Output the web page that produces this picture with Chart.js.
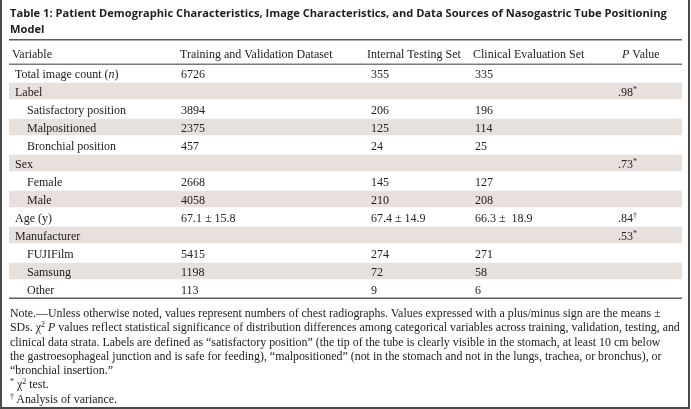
<!DOCTYPE html>
<html><head><meta charset="utf-8">
<script src="https://cdn.jsdelivr.net/npm/chart.js@4/dist/chart.umd.min.js"></script>
<style>
html,body{margin:0;padding:0;background:#fff;}
#wrap{position:relative;width:691px;height:409px;overflow:hidden;background:#fff;}
#frame{position:absolute;left:0;top:-2px;width:686px;height:407px;border:2px solid #4a4a4a;pointer-events:none;}
#title{position:absolute;left:10px;top:5px;font-family:"Open Sans";font-weight:700;font-size:12px;color:#1e1e1e;line-height:16px;white-space:nowrap;}
#note{position:absolute;left:10px;top:306px;font-family:"Liberation Serif";font-size:11.9px;color:#222;line-height:14.3px;white-space:nowrap;}
#note sup{font-size:8px;line-height:0;vertical-align:4px;}
canvas{position:absolute;left:0;top:0;}
</style></head>
<body><div id="wrap">
<canvas id="c" width="691" height="409"></canvas>
<div id="title"><span id="t1">Table 1: Patient Demographic Characteristics, Image Characteristics, and Data Sources of Nasogastric Tube Positioning</span><br>Model</div>
<div id="note">Note.—Unless otherwise noted, values represent numbers of chest radiographs. Values expressed with a plus/minus sign are the means ±<br>SDs. χ<sup>2</sup> <i>P</i> values reflect statistical significance of distribution differences among categorical variables across training, validation, testing, and<br>clinical data strata. Labels are defined as “satisfactory position” (the tip of the tube is clearly visible in the stomach, at least 10 cm below<br>the gastroesophageal junction and is safe for feeding), “malpositioned” (not in the stomach and not in the lungs, trachea, or bronchus), or<br>“bronchial insertion.”<br><sup>*</sup> χ<sup>2</sup> test.<br><sup>†</sup> Analysis of variance.</div>
<div id="frame"></div>
</div>
<script>
const columnHeaders = ["Variable", "Training and Validation Dataset", "Internal Testing Set", "Clinical Evaluation Set", "P Value"];
const rowLabels = ["Total image count (n)", "Label", "Satisfactory position", "Malpositioned", "Bronchial position", "Sex", "Female", "Male", "Age (y)", "Manufacturer", "FUJIFilm", "Samsung", "Other"];
const rowLevel = [0, 0, 1, 1, 1, 0, 1, 1, 0, 0, 1, 1, 1];
const trainingValues = ["6726", "", "3894", "2375", "457", "", "2668", "4058", "67.1 ± 15.8", "", "5415", "1198", "113"];
const internalValues = ["355", "", "206", "125", "24", "", "145", "210", "67.4 ± 14.9", "", "274", "72", "9"];
const clinicalValues = ["335", "", "196", "114", "25", "", "127", "208", "66.3 ±  18.9", "", "271", "58", "6"];
const pValues = ["", ".98", "", "", "", ".73", "", "", ".84", ".53", "", "", ""];
const pMarks = ["", "*", "", "", "", "*", "", "", "†", "*", "", "", ""];

const FONT = '"Liberation Serif"';
const FS = 12;
const TEXT = '#222';
const colX = {label: 15, sub: 27, train: 181, internal: 371, clinical: 475, p: 618};
const headX = [12, 180, 367, 473, 622];

function drawParts(ctx, parts, x, y) {
  let cx = x;
  for (const p of parts) {
    const size = p.sup ? 8 : FS;
    ctx.font = (p.italic ? 'italic ' : '') + size + 'px ' + FONT;
    ctx.fillText(p.t, cx, y - (p.sup ? 4 : 0));
    cx += ctx.measureText(p.t).width + (p.sup ? 0.5 : 0);
  }
}
function labelParts(s) {
  const m = s.match(/^(.*\()(n)(\).*)$/);
  if (m) return [{t: m[1]}, {t: m[2], italic: true}, {t: m[3]}];
  return [{t: s}];
}
function headerParts(s) {
  if (s.startsWith('P ')) return [{t: 'P', italic: true}, {t: ' ' + s.slice(2)}];
  return [{t: s}];
}

const tablePlugin = {
  id: 'tablePlugin',
  afterDatasetsDraw(chart) {
    const ctx = chart.ctx, ys = chart.scales.y, a = chart.chartArea;
    ctx.save();
    ctx.fillStyle = '#5c5c5c';
    ctx.fillRect(a.left, a.top - 25, a.right - a.left, 1.5);
    ctx.fillStyle = '#7a7a7a';
    ctx.fillRect(a.left, a.top - 0.5, a.right - a.left, 1.5);
    ctx.fillStyle = '#5c5c5c';
    ctx.fillRect(a.left, a.bottom - 0.5, a.right - a.left, 1.5);
    ctx.fillStyle = TEXT;
    ctx.textBaseline = 'alphabetic';
    ctx.textAlign = 'left';
    const hy = a.top - 6.5;
    columnHeaders.forEach((h, i) => drawParts(ctx, headerParts(h), headX[i], hy));
    rowLabels.forEach((lab, i) => {
      const y = ys.getPixelForValue(i) + 4.5;
      drawParts(ctx, labelParts(lab), rowLevel[i] ? colX.sub : colX.label, y);
      drawParts(ctx, [{t: trainingValues[i]}], colX.train, y);
      drawParts(ctx, [{t: internalValues[i]}], colX.internal, y);
      drawParts(ctx, [{t: clinicalValues[i]}], colX.clinical, y);
      if (pValues[i]) drawParts(ctx, [{t: pValues[i]}, {t: pMarks[i], sup: true}], colX.p, y);
    });
    ctx.restore();
  }
};

// fit title width
(function(){
  const c = document.createElement('canvas').getContext('2d');
  c.font = '700 100px "Open Sans"';
  const w = c.measureText(document.getElementById('t1').textContent).width;
  document.getElementById('title').style.fontSize = (100 * 657 / w).toFixed(2) + 'px';
})();

new Chart(document.getElementById('c'), {
  type: 'bar',
  data: {
    labels: rowLabels,
    datasets: [{
      data: rowLabels.map((_, i) => i % 2 === 1 ? [0, 1] : null),
      backgroundColor: '#e7e0dd',
      borderWidth: 0,
      barPercentage: 0.93,
      categoryPercentage: 1
    }]
  },
  options: {
    indexAxis: 'y',
    responsive: false,
    devicePixelRatio: 1,
    animation: false,
    events: [],
    layout: {padding: {left: 9, right: 9, top: 64, bottom: 111}},
    plugins: {legend: {display: false}, tooltip: {enabled: false}, title: {display: false}},
    scales: {
      x: {type: 'linear', min: 0, max: 1, display: false},
      y: {type: 'category', display: false, offset: true}
    }
  },
  plugins: [tablePlugin]
});
</script>
</body></html>
